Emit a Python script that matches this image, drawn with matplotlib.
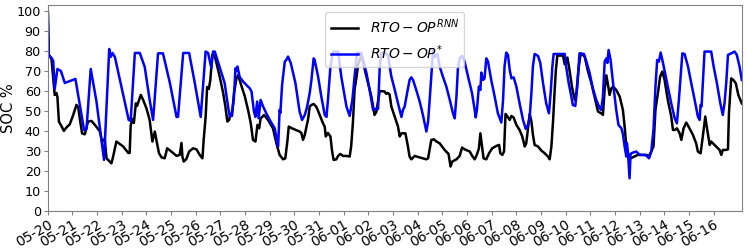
import pandas as pd
import matplotlib
matplotlib.use("Agg")
import matplotlib.pyplot as plt
import matplotlib.dates as mdates

# SOC traces (days after 05-20 00:00, SOC in %)
start = pd.Timestamp("2020-05-20")
tick_dates = pd.date_range("2020-05-20", "2020-06-16", freq="D")

rnn_days = [0, 0.04, 0.15, 0.28, 0.35, 0.39, 0.45, 0.55, 0.65, 0.76, 0.89, 1.03, 1.16, 1.23, 1.30,
            1.39, 1.50, 1.63, 1.77, 1.91, 2.11, 2.20, 2.31, 2.38, 2.51, 2.58, 2.65, 2.78, 3.05, 3.26,
            3.32, 3.36, 3.43, 3.49, 3.57, 3.62, 3.77, 3.86, 4.00, 4.13, 4.24, 4.34, 4.41, 4.51, 4.61,
            4.74, 4.84, 5.01, 5.22, 5.35, 5.42, 5.46, 5.51, 5.62, 5.73, 5.89, 6.03, 6.16, 6.27, 6.32,
            6.40, 6.46, 6.53, 6.59, 6.67, 6.77, 6.97, 7.11, 7.20, 7.28, 7.35, 7.42, 7.47, 7.55, 7.65,
            7.72, 7.82, 7.99, 8.12, 8.23, 8.32, 8.42, 8.50, 8.57, 8.63, 8.77, 8.93, 9.13, 9.27, 9.40,
            9.54, 9.63, 9.72, 9.77, 9.90, 10.12, 10.21, 10.28, 10.35, 10.42, 10.49, 10.55, 10.62, 10.69,
            10.78, 10.89, 11.00, 11.13, 11.23, 11.27, 11.36, 11.46, 11.53, 11.59, 11.70, 11.77, 11.86,
            11.97, 12.11, 12.24, 12.30, 12.37, 12.44, 12.51, 12.58, 12.71, 12.92, 13.12, 13.25, 13.32,
            13.46, 13.66, 13.72, 13.79, 13.86, 13.93, 14.07, 14.20, 14.27, 14.34, 14.50, 14.58, 14.67,
            14.74, 14.88, 15.01, 15.21, 15.35, 15.42, 15.48, 15.55, 15.66, 15.76, 15.89, 16.09, 16.25,
            16.33, 16.40, 16.57, 16.70, 16.80, 16.90, 17.11, 17.21, 17.31, 17.40, 17.48, 17.54, 17.62,
            17.67, 17.78, 17.89, 18.02, 18.19, 18.30, 18.35, 18.43, 18.50, 18.56, 18.66, 18.73, 18.80,
            18.89, 19.00, 19.13, 19.24, 19.34, 19.40, 19.54, 19.61, 19.67, 19.74, 19.88, 20.01, 20.15,
            20.28, 20.35, 20.42, 20.49, 20.56, 20.60, 20.66, 20.89, 20.96, 21.07, 21.16, 21.26, 21.37,
            21.43, 21.53, 21.61, 21.77, 21.90, 22.04, 22.17, 22.31, 22.44, 22.51, 22.58, 22.65, 22.71,
            22.78, 22.85, 22.92, 23.05, 23.19, 23.32, 23.39, 23.46, 23.52, 23.63, 23.79, 23.92, 24.05,
            24.27, 24.38, 24.47, 24.56, 24.64, 24.74, 24.83, 24.92, 25.01, 25.14, 25.28, 25.35, 25.42,
            25.51, 25.62, 25.69, 25.78, 25.89, 26.02, 26.16, 26.29, 26.36, 26.47, 26.56, 26.66, 26.74,
            26.84, 26.90, 26.97, 27.10, 27.24, 27.31, 27.37, 27.51, 27.58, 27.62, 27.71, 27.80, 27.90,
            28.00, 28.14]
rnn_soc = [100, 78, 76, 58, 59, 57, 44.7, 42.5, 40, 41.8, 43.3, 48, 53, 52, 46,
           38.8, 38.3, 44.7, 45, 43, 39.8, 34.7, 36, 26.3, 24.7, 23.8, 27.2, 34.7, 32.3, 29,
           29, 42.7, 46, 44, 53.8, 52.5, 58, 55.7, 51.3, 45.5, 34.7, 39.7, 35, 28.8, 26.8,
           26.3, 31.3, 29.7, 27.5, 28, 34, 27, 24.7, 26, 29.7, 31.3, 30.8, 28, 26.3, 35.5,
           47, 62, 61, 65.5, 78, 77.5, 67.2, 59, 52.2, 44.7, 45.5, 48.5, 47.5, 59, 66.3,
           68, 63.8, 57.2, 50.5, 43.8, 35.5, 34.7, 43, 41.3, 46.2, 48, 45.5, 41.3, 33.8, 28,
           25.8, 26.3, 35.5, 42.2, 41.3, 40.2, 39.7, 39, 35.5, 38, 42.2, 45.5, 52.2, 53,
           53.5, 52, 48.8, 44.7, 42, 37.2, 39, 37.2, 29.7, 25.5, 25.8, 27.5, 28.5,
           27.5, 27.5, 27.2, 32.2, 43.8, 60.7, 66.3, 73, 78, 67.2, 57.2, 48, 49.5,
           60, 59.7, 58.5, 59, 58.2, 52.2, 47, 42.2, 37.2, 38.8, 38.8, 33.8, 27.2,
           25.8, 27.5, 27, 26.3, 25.8, 26.3, 30.5, 35.5, 35.8, 34.7, 33.8, 30.5, 28.5,
           22.2, 24.7, 25.8, 27.5, 31.7, 30.8, 29.7, 27.5, 25.8, 28.2, 31.2, 38.8, 31.2,
           26.3, 25.8, 28.8, 31.3, 32.5, 33, 28.8, 28, 29.7, 48.5, 46.8, 45.5, 47.5,
           46.7, 43, 40.5, 37.2, 32.2, 33.8, 48.5, 44.8, 38.2, 33, 32.2, 30.2, 28.8,
           27.2, 25.8, 32.2, 45.5, 62, 70, 77.7, 77.7, 73.3, 76.7, 70, 61.7, 55.5,
           58.5, 72.2, 78.8, 77.2, 70, 64, 57.2, 49.7, 48.8, 48, 60.7, 67.8, 63.5,
           58, 61.2, 62.2, 60.5, 57.2, 50.5, 42.2, 32.2, 27.2, 26.3, 27.2, 28, 28,
           28, 27.5, 29.7, 32.2, 50.5, 59, 67.2, 69.7, 65.5, 55.5, 47.2, 40.5, 40.5,
           41.3, 38.8, 35.5, 41.3, 44.2, 41.3, 38, 33.8, 29.7, 28.8, 37.2, 47.2, 40.5,
           33, 34.7, 33.8, 32.2, 30.5, 28, 30.5, 30.5, 30.8, 48.8, 66.3, 65.5, 63.8,
           58, 53.8]

opt_days = [0, 0.04, 0.15, 0.22, 0.28, 0.39, 0.53, 0.69, 1.12, 1.47, 1.57, 1.74, 1.97, 2.28, 2.49,
            2.55, 2.62, 2.72, 3.28, 3.36, 3.53, 3.73, 3.93, 4.13, 4.27, 4.47, 4.67, 4.95, 5.22, 5.28,
            5.49, 5.73, 5.96, 6.20, 6.40, 6.50, 6.63, 6.70, 6.77, 7.04, 7.17, 7.31, 7.38, 7.45, 7.54,
            7.61, 7.65, 7.69, 7.78, 7.92, 8.05, 8.19, 8.26, 8.36, 8.42, 8.49, 8.55, 8.63, 8.73, 8.86,
            9.00, 9.20, 9.34, 9.40, 9.43, 9.50, 9.61, 9.67, 9.74, 9.85, 10.04, 10.21, 10.31, 10.42,
            10.51, 10.62, 10.69, 10.78, 10.82, 10.96, 11.09, 11.23, 11.30, 11.36, 11.46, 11.57, 11.77,
            11.90, 12.11, 12.24, 12.35, 12.44, 12.54, 12.71, 12.92, 13.05, 13.19, 13.25, 13.39, 13.46,
            13.53, 13.66, 13.79, 13.93, 14.07, 14.20, 14.34, 14.40, 14.47, 14.58, 14.67, 14.74, 14.81,
            14.94, 15.08, 15.21, 15.35, 15.42, 15.48, 15.55, 15.62, 15.69, 15.80, 15.89, 16.02, 16.16,
            16.30, 16.43, 16.50, 16.57, 16.63, 16.70, 16.80, 16.90, 17.04, 17.20, 17.31, 17.35, 17.40,
            17.48, 17.54, 17.58, 17.65, 17.71, 17.78, 17.85, 17.98, 18.12, 18.25, 18.39, 18.46, 18.52,
            18.59, 18.66, 18.73, 18.80, 18.89, 19.00, 19.13, 19.27, 19.38, 19.47, 19.54, 19.61, 19.67,
            19.74, 19.88, 19.97, 20.08, 20.21, 20.32, 20.39, 20.46, 20.51, 20.96, 21.02, 21.12, 21.23,
            21.29, 21.39, 21.47, 21.56, 21.74, 21.84, 21.97, 22.10, 22.24, 22.38, 22.44, 22.51, 22.58,
            22.65, 22.69, 22.74, 22.82, 22.92, 23.05, 23.14, 23.26, 23.32, 23.39, 23.46, 23.48, 23.52,
            23.59, 23.63, 23.73, 23.86, 23.96, 24.04, 24.20, 24.29, 24.38, 24.47, 24.56, 24.64, 24.71,
            24.78, 24.85, 24.92, 25.01, 25.14, 25.28, 25.42, 25.51, 25.59, 25.66, 25.73, 25.82, 25.96,
            26.09, 26.23, 26.36, 26.43, 26.47, 26.51, 26.56, 26.63, 26.90, 27.00, 27.13, 27.27, 27.37,
            27.44, 27.51, 27.58, 27.71, 27.85, 27.94, 28.05, 28.14]
opt_soc = [100, 78, 76.5, 75, 61, 71, 70, 64, 66, 40.5, 41, 71, 55, 25.5, 81,
           77, 79, 77, 45.5, 45, 79, 79, 72, 55.5, 45.5, 78.8, 78.8, 64, 47, 47,
           79, 79, 64, 47, 79.7, 79, 71.5, 79.7, 79.7, 69, 64, 52, 47, 48, 55.5,
           71.3, 70, 72.2, 67, 64.7, 63, 61.3, 59.7, 49.7, 47, 54.7, 46.3, 55.5, 52.2, 48.8,
           45.5, 41.3, 32.2, 50.5, 49, 63, 74.7, 75.5, 77.2, 74, 64, 49.7, 45.5, 48,
           51.8, 59, 65.5, 76.3, 75.5, 67.2, 57.2, 48, 47, 55.5, 72.2, 79.7, 79.7,
           67.2, 52.2, 47.5, 55.5, 67.2, 79, 79, 69, 60.5, 50.5, 51, 51, 72.2,
           79, 79.2, 78, 67.2, 60.5, 53.8, 47, 50.5, 52.2, 59.7, 65.5, 66.8, 65.5,
           60.5, 54.7, 48, 39.7, 44.7, 54.7, 67.2, 80, 77, 78.5, 72.2, 67.2, 62.2,
           55.5, 48.8, 46.3, 57.2, 71.3, 76.3, 77.5, 74.7, 67.2, 59, 50.5, 46.8, 50.5,
           62.2, 60.5, 69.2, 65.5, 66.3, 76.3, 74.7, 65.5, 57.2, 48.8, 44.2, 55.5, 72.2,
           79.2, 78, 70.5, 66.3, 66.8, 62.2, 53.8, 45.5, 41, 43, 47, 59, 72.2,
           78.5, 77.5, 74, 64, 53.8, 48.8, 59, 72.2, 78.5, 78.5, 72.2, 64, 57.2,
           53, 52.5, 62.2, 78.8, 78.5, 74.7, 69, 61.3, 55.5, 51.3, 50.5, 57.2, 74.7,
           76.3, 74, 80.5, 75.5, 64, 50.5, 43, 41.3, 38.5, 32.2, 27.2, 34, 30,
           16.3, 28.5, 29.2, 29.7, 28.5, 28, 28, 27.5, 26.3, 29.7, 40.5, 62.2, 75.5,
           74.7, 79.2, 75.5, 70, 62.2, 53.8, 46.3, 43.8, 55.5, 67.2, 78.8, 78.5, 72.2,
           64, 55.5, 47.2, 45.5, 53, 52.2, 63.8, 79.7, 79.7, 72.2, 64, 53.8, 48,
           53.8, 64, 78, 78.8, 79.7, 78, 72.2, 65.5]

rnn_time = start + pd.to_timedelta(rnn_days, unit="D")
opt_time = start + pd.to_timedelta(opt_days, unit="D")

fig = plt.figure(figsize=(7.47, 2.49), dpi=100)
ax = fig.add_axes([0.064, 0.153, 0.929, 0.827])

ax.plot(rnn_time, rnn_soc, color="black", lw=1.8, label=r"$RTO-OP^{RNN}$")
ax.plot(opt_time, opt_soc, color="blue", lw=1.8, label=r"$RTO-OP^{*}$")

ax.set_ylim(0, 103)
ax.set_yticks(range(0, 101, 10))
ax.set_xlim(start, start + pd.Timedelta(days=28.14))
ax.set_xticks(tick_dates)
ax.xaxis.set_major_formatter(mdates.DateFormatter("%m-%d"))
ax.set_ylabel("SOC %", fontsize=10.5, labelpad=0)

ax.tick_params(axis="y", labelsize=9.2, color="grey", length=3, pad=2)
ax.tick_params(axis="x", labelsize=10, color="grey", length=3, pad=2)
for lab in ax.get_xticklabels():
    lab.set_rotation(30)
    lab.set_ha("right")
    lab.set_rotation_mode("anchor")
for sp in ax.spines.values():
    sp.set_color("grey")

ax.legend(loc="upper center", fontsize=10)

fig.savefig("out.png", dpi=100)
